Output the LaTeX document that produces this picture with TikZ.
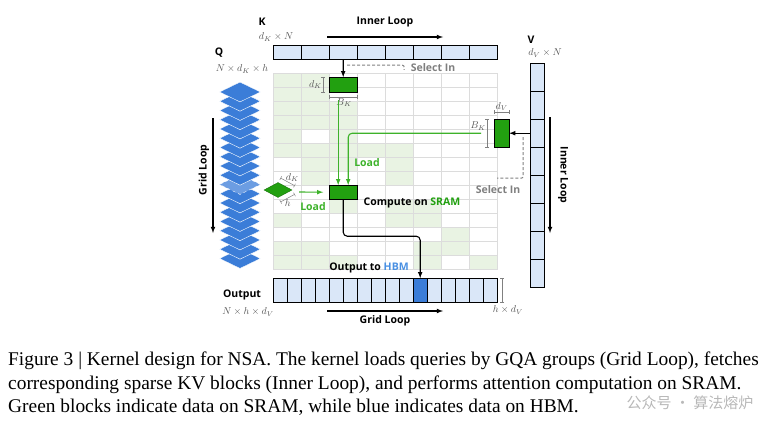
\documentclass[tikz,border=0pt]{standalone}
\usepackage{amsmath}
\usepackage{fontspec}
\setsansfont{Open Sans}
\newfontfamily\capfont{Liberation Serif}
\newfontfamily\cjkfont{Noto Sans CJK SC}
\usepackage{tikz}
\usetikzlibrary{matrix,positioning,arrows.meta,shapes.geometric,calc}

\definecolor{kvblue}{HTML}{DAE7F8}
\definecolor{hbmblue}{HTML}{3B7DD8}
\definecolor{hbmtext}{HTML}{4A90E2}
\definecolor{sramgreen}{HTML}{22A010}
\definecolor{loadgreen}{HTML}{3DB22A}
\definecolor{cellgreen}{HTML}{E9F3E3}
\definecolor{gridgray}{HTML}{DCDCDC}
\definecolor{labgray}{HTML}{555555}
\definecolor{selgray}{HTML}{7F7F7F}

\begin{document}
\begin{tikzpicture}[x=1pt,y=-1pt,
        font=\sffamily\bfseries\fontsize{10.5}{12}\selectfont,
        >=latex, % Pfeilspitzen
        cell/.style={draw=gridgray,line width=1.2pt,minimum width=28pt,minimum height=14pt,inner sep=0pt,outer sep=0pt},
        g/.style={fill=cellgreen},
        bar/.style={draw=black,line width=1.1pt,fill=kvblue,inner sep=0pt,outer sep=0pt},
        hb/.style={fill=hbmblue},
        blk/.style={draw=black,line width=1.1pt,fill=sramgreen,inner sep=0pt,outer sep=0pt},
        dim/.style={draw=gray,line width=0.5pt,{Bar[width=4pt]}-{Bar[width=4pt]}},
        lbl/.style={font=\fontsize{10}{12}\selectfont,text=labgray,inner sep=1pt},
        load/.style={draw=loadgreen,line width=1.1pt},
        seldash/.style={draw=gray,line width=1pt,dashed,dash pattern=on 3pt off 2pt},
        qdia/.style={diamond,fill=hbmblue,draw=white,line width=0.4pt,minimum width=41pt,minimum height=20pt,inner sep=0pt}
        ]
    \useasboundingbox (0,0) rectangle (784,428);

    % Gitter (Auswahl der Bloecke)
    \matrix (S) [matrix of nodes, nodes in empty cells, nodes={cell},
        inner sep=0pt, column sep=-1.2pt, row sep=-1.2pt, anchor=north west] at (272.4,72.4)
    {
        |[g]| & |[g]| &       &       &       &       &       &       \\
        |[g]| & |[g]| &       &       &       &       &       &       \\
        |[g]| & |[g]| & |[g]| &       &       &       &       &       \\
        |[g]| & |[g]| & |[g]| &       &       &       &       &       \\
        |[g]| &       & |[g]| &       &       &       &       &       \\
        |[g]| & |[g]| & |[g]| & |[g]| & |[g]| &       &       &       \\
              & |[g]| & |[g]| &       & |[g]| &       &       &       \\
              & |[g]| &       &       & |[g]| &       &       &       \\
              &       &       &       &       &       &       &       \\
              &       & |[g]| &       & |[g]| & |[g]| &       &       \\
        |[g]| &       &       &       & |[g]| & |[g]| &       &       \\
              &       &       &       &       &       & |[g]| &       \\
        |[g]| & |[g]| &       &       &       & |[g]| & |[g]| &       \\
        |[g]| & |[g]| & |[g]| &       &       & |[g]| &       & |[g]| \\
    };

    % K, V und Ausgabe
    \matrix (K) [matrix of nodes, nodes in empty cells,
        nodes={bar,minimum width=28pt,minimum height=14pt},
        inner sep=0pt, column sep=-1.1pt, anchor=north west] at (272.45,44.45)
    { &&&&&&& \\ };

    \matrix (V) [matrix of nodes, nodes in empty cells,
        nodes={bar,minimum width=14pt,minimum height=28pt},
        inner sep=0pt, row sep=-1.1pt, anchor=north west] at (529.45,62.45)
    { \\ \\ \\ \\ \\ \\ \\ \\ };

    \matrix (O) [matrix of nodes, nodes in empty cells,
        nodes={bar,minimum width=14pt,minimum height=24pt},
        inner sep=0pt, column sep=-1.1pt, anchor=north west] at (272.45,277.45)
    { &&&&&&&&&& |[hb]| &&&&& \\ };

    % Bloecke im SRAM
    \node[blk, minimum width=28pt, minimum height=15pt, anchor=north] (kb) at ([yshift=-4pt]S-1-3.north) {};
    \node[blk, minimum width=15pt, minimum height=28pt, left=21pt of V-3-1] (vb) {};
    \node[blk, minimum width=28pt, minimum height=14pt] (cb) at (S-9-3) {};

    % Q-Stapel
    \foreach \i in {18,...,0}{
        \ifnum\i=10
            \node[qdia, fill=hbmblue!75, draw=white, dashed] (q\i) at (240,{92+\i*9.25}) {};
        \else
            \node[qdia] (q\i) at (240,{92+\i*9.25}) {};
        \fi
    }
    \node[diamond, fill=sramgreen, draw=sramgreen!70!black, line width=0.4pt,
          minimum width=28pt, minimum height=15pt, inner sep=0pt] (qd) at (278,190) {};

    % Beschriftungen
    \node (Kl) at (262,22) {K};
    \node[lbl] (Kd) at (276,37) {$d_K\times N$};
    \node (il) at (385,22) {Inner Loop};
    \node (Ql) at (219,53) {Q};
    \node[lbl] (Qd) at (242,69) {$N\times d_K\times h$};
    \node (Vl) at (531,40) {V};
    \node[lbl] (Vd) at (545,53) {$d_V\times N$};
    \node[rotate=90] (gll) at (204,170) {Grid Loop};
    \node[rotate=-90] (ill) at (563,175) {Inner Loop};
    \node[text=selgray] (selK) at (433,68) {Select In};
    \node[text=selgray] (selV) at (498,190) {Select In};
    \node[text=loadgreen] (ld1) at (367,163) {Load};
    \node[text=loadgreen] (ld2) at (313,207) {Load};
    \node (cmp) at (412,203) {Compute on \textcolor{sramgreen}{SRAM}};
    \node (otb) at (369,268) {Output to \textcolor{hbmtext}{HBM}};
    \node (Ol) at (242,295) {Output};
    \node[lbl] (Od) at (248,312) {$N\times h\times d_V$};
    \node[lbl] (Ohd) at (508,310) {$h\times d_V$};
    \node (gl) at (385,321) {Grid Loop};

    % Schleifenpfeile
    \coordinate (il1) at (327,37);  \coordinate (il2) at (443,37);
    \coordinate (gl1) at (327,311); \coordinate (gl2) at (443,311);
    \coordinate (gv1) at (213,118); \coordinate (gv2) at (213,233);
    \coordinate (iv1) at (550,117); \coordinate (iv2) at (550,233);
    \draw[->, line width=1.1pt] (il1) -- (il2);
    \draw[->, line width=1.1pt] (gl1) -- (gl2);
    \draw[->, line width=1.1pt] (gv1) -- (gv2);
    \draw[->, line width=1.1pt] (iv1) -- (iv2);

    % Auswahl aus K und V
    \draw[->, line width=1.1pt] (K-1-3.south) -- (kb.north);
    \draw[seldash, rounded corners=2pt] ($(K-1-3.south)+(4,6)$) -| ([xshift=-3pt,yshift=-2pt]selK.west);
    \draw[->, line width=1.1pt] (V-3-1.west) -- (vb.east);
    \draw[seldash, rounded corners=2pt] ($(V-3-1.west)+(-7,4)$) |- (S-8-8.east);

    % Masse
    \draw[dim] ([xshift=-6pt]kb.north west) -- ([xshift=-6pt]kb.south west) node[midway, left, lbl] {$d_K$};
    \draw[dim] ([yshift=-5pt]kb.south west) -- ([yshift=-5pt]kb.south east) node[midway, below right=0pt and -8pt, lbl] {$B_K$};
    \draw[dim] ([yshift=7pt]vb.north west) -- ([yshift=7pt]vb.north east) node[midway, above, lbl] {$d_V$};
    \draw[dim] ([xshift=-7pt]vb.north west) -- ([xshift=-7pt]vb.south west) node[pos=0.25, left, lbl] {$B_K$};
    \draw[dim] ($(qd.north)+(2.5,-4.3)$) -- ($(qd.east)+(2.5,-4.3)$) node[midway, above right=-1pt and -3pt, lbl] {$d_K$};
    \draw[dim] ($(qd.east)+(2.5,4.3)$) -- ($(qd.south)+(2.5,4.3)$) node[midway, below right=0pt and -4pt, lbl] {$h$};
    \draw[dim] ([xshift=5pt]O-1-16.north east) -- ([xshift=5pt]O-1-16.south east);

    % Laden ins SRAM
    \draw[load, ->] ([xshift=-5pt,yshift=-8pt]kb.south) -- ([xshift=-5pt]cb.north);
    \draw[load, ->, rounded corners=4pt] ([xshift=-13pt]vb.west) -| ([xshift=5pt]cb.north);
    \draw[load, ->] ($(qd.east)+(7,2)$) -- ([xshift=-6pt]cb.west);

    % Ausgabe
    \draw[->, line width=1.1pt, rounded corners=4pt] (cb.south) |- ($(O-1-11.north)+(0,-42)$) -- (O-1-11.north);

    % Bildunterschrift
    \begin{scope}[font=\capfont\mdseries\fontsize{19.4}{23}\selectfont]
        \node[anchor=base west, inner sep=0pt] (c1) at (8,365) {Figure 3 | Kernel design for NSA. The kernel loads queries by GQA groups (Grid Loop), fetches};
        \node[anchor=base west, inner sep=0pt] (c2) at (8,389) {corresponding sparse KV blocks (Inner Loop), and performs attention computation on SRAM.};
        \node[anchor=base west, inner sep=0pt] (c3) at (8,412) {Green blocks indicate data on SRAM, while blue indicates data on HBM.};
    \end{scope}
    \node[font=\cjkfont\mdseries\fontsize{15}{17}\selectfont, text=black!35, opacity=0.8, inner sep=0pt] (wm) at (690,403) {公众号 · 算法熔炉};
\end{tikzpicture}
\end{document}
